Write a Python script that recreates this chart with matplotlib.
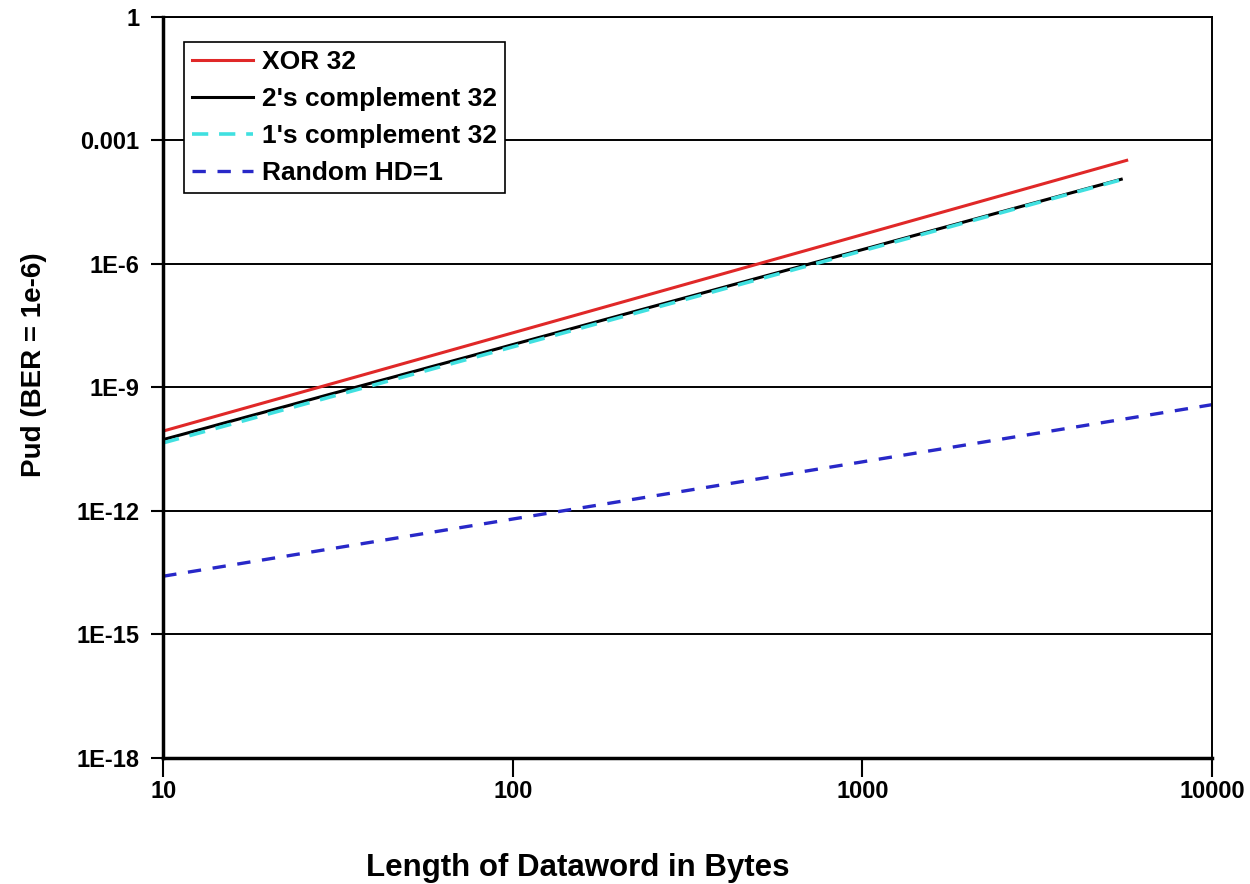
import matplotlib
matplotlib.use("Agg")
import matplotlib.pyplot as plt

# Datos (Pud vs longitud en bytes, BER = 1e-6)
x_xor = [10, 5700]
y_xor = [8.7e-11, 3.25e-4]

x_twos = [10, 5500]
y_twos = [5.4e-11, 1.13e-4]

x_ones = [10, 5500]
y_ones = [4.5e-11, 1.1e-4]

x_rand = [10, 10000]
y_rand = [2.6e-14, 3.8e-10]

y_ticks = [1e-18, 1e-15, 1e-12, 1e-9, 1e-6, 1e-3, 1]
y_tick_labels = ['1E-18', '1E-15', '1E-12', '1E-9', '1E-6', '0.001', '1']
x_ticks = [10, 100, 1000, 10000]
x_tick_labels = ['10', '100', '1000', '10000']

plt.rcParams['font.family'] = ['Liberation Sans', 'DejaVu Sans']
plt.rcParams['font.weight'] = 'bold'

fig = plt.figure(figsize=(12.5, 8.84), dpi=100)
ax = fig.add_axes([0.1306, 0.1425, 0.8390, 0.8386])

ax.plot(x_xor, y_xor, color='#e02828', lw=2.2, label='XOR 32')
ax.plot(x_twos, y_twos, color='black', lw=2.2, label="2's complement 32")
ax.plot(x_ones, y_ones, color='#40e0e0', lw=2.6, dashes=(4.5, 3),
        label="1's complement 32")
ax.plot(x_rand, y_rand, color='#2828c8', lw=2.4, dashes=(4, 3.5),
        label='Random HD=1')

ax.set_xscale('log')
ax.set_yscale('log')
ax.set_xlim(10, 10000)
ax.set_ylim(1e-18, 1)

ax.set_xticks(x_ticks)
ax.set_xticklabels(x_tick_labels)
ax.set_yticks(y_ticks)
ax.set_yticklabels(y_tick_labels)
ax.minorticks_off()

ax.tick_params(axis='x', direction='out', length=14, width=1.5, pad=2,
               labelsize=17)
ax.tick_params(axis='y', direction='out', length=9, width=1.5, pad=8,
               labelsize=17)

# Lineas horizontales de la grilla
ax.grid(axis='y', color='black', linewidth=1.4)
ax.set_axisbelow(True)

for side in ['left', 'bottom']:
    ax.spines[side].set_linewidth(2.5)
for side in ['top', 'right']:
    ax.spines[side].set_linewidth(1.4)

leg = ax.legend(loc='upper left', bbox_to_anchor=(0.0197, 0.966),
                fontsize=19, frameon=True, fancybox=False, framealpha=1,
                edgecolor='black', handlelength=2.3, labelspacing=0.5,
                borderpad=0.3, handletextpad=0.35, borderaxespad=0)
leg.get_frame().set_linewidth(1.2)

fig.text(0.462, 0.018, 'Length of Dataword in Bytes', ha='center',
         va='center', fontsize=22.5, fontweight='bold')
fig.text(0.027, 0.587, 'Pud (BER = 1e-6)', ha='center', va='center',
         rotation=90, fontsize=20, fontweight='bold')

fig.savefig('out.png', dpi=100)
